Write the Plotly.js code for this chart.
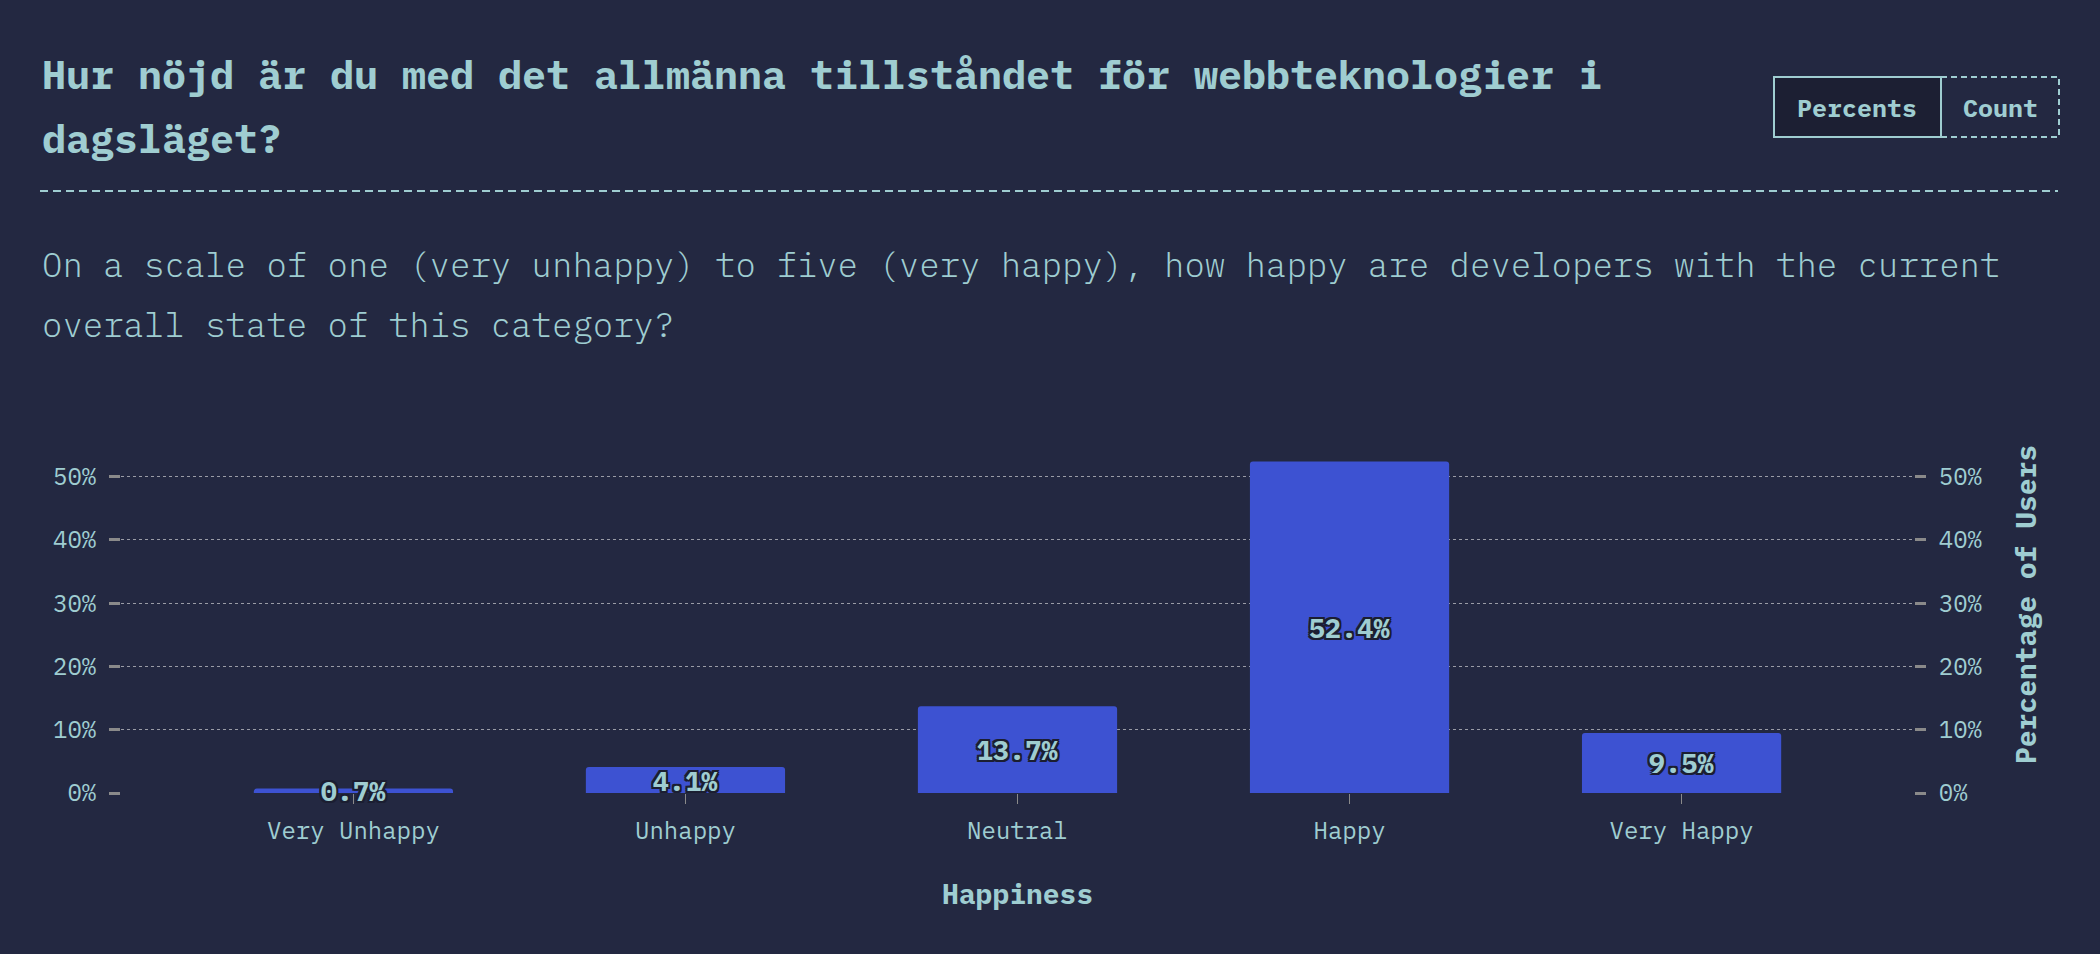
<!DOCTYPE html>
<html>
<head>
<meta charset="utf-8">
<script src="https://cdn.plot.ly/plotly-3.0.1.min.js"></script>
<style>
  html, body { margin: 0; padding: 0; background: #232841; }
  #chart { width: 2100px; height: 954px; }
</style>
</head>
<body>
<div id="chart"></div>
<script>
// ---- data ----
const categories = ['Very Unhappy', 'Unhappy', 'Neutral', 'Happy', 'Very Happy'];
const percents = [0.7, 4.1, 13.7, 52.4, 9.5];
const yTickVals = [0, 10, 20, 30, 40, 50];
const yTickLabels = ['0%', '10%', '20%', '30%', '40%', '50%'];
const titleLines = [
  'Hur nöjd är du med det allmänna tillståndet för webbteknologier i',
  'dagsläget?'
];
const subtitleLines = [
  'On a scale of one (very unhappy) to five (very happy), how happy are developers with the current',
  'overall state of this category?'
];
const buttonLabels = ['Percents', 'Count'];
const xTitle = 'Happiness';
const yTitle = 'Percentage of Users';

// ---- styling ----
const BG = '#232841';
const TXT = '#9fcdd1';
const BAR = '#3d52d2';
const FONT = '"IBM Plex Mono", "DejaVu Sans Mono", "Liberation Mono", monospace';

const W = 2100, H = 954;
const L = 121, R = 1914, T = 445, B = 793;
const pw = R - L, ph = B - T;
const px = x => (x - L) / pw;
const py = y => (B - y) / ph;

const trace = {
  type: 'bar',
  x: categories,
  y: percents,
  width: 0.6,
  marker: { color: BAR, cornerradius: 3 },
  texttemplate: '%{y:.1f}%',
  textposition: 'inside',
  insidetextanchor: 'middle',
  constraintext: 'none',
  textangle: 0,
  cliponaxis: false,
  textfont: {
    family: FONT, size: 27, color: TXT, weight: 700,
    shadow: '2px 2px 0 #1b1e31, -2px -2px 0 #1b1e31, 2px -2px 0 #1b1e31, -2px 2px 0 #1b1e31, 0 2px 0 #1b1e31, 0 -2px 0 #1b1e31, 2px 0 0 #1b1e31, -2px 0 0 #1b1e31'
  },
  hoverinfo: 'skip'
};

// invisible trace that only registers the right-hand axis (draws nothing)
const axisTrace = {
  type: 'scatter', mode: 'none',
  x: categories, y: percents,
  yaxis: 'y2', hoverinfo: 'skip', showlegend: false
};

const annotations = [];
titleLines.forEach((t, i) => annotations.push({
  text: t, xref: 'paper', yref: 'paper', x: px(40), y: py(74 + i * 64),
  xanchor: 'left', yanchor: 'middle', showarrow: false,
  font: { family: FONT, size: 40, color: TXT, weight: 700 }
}));
subtitleLines.forEach((t, i) => annotations.push({
  text: t, xref: 'paper', yref: 'paper', x: px(40), y: py(264 + i * 60),
  xanchor: 'left', yanchor: 'middle', showarrow: false,
  font: { family: FONT, size: 34, color: TXT, weight: 300 }
}));
annotations.push({
  text: buttonLabels[0], xref: 'paper', yref: 'paper', x: px(1857), y: py(107),
  xanchor: 'center', yanchor: 'middle', showarrow: false,
  font: { family: FONT, size: 25, color: TXT, weight: 700 }
});
annotations.push({
  text: buttonLabels[1], xref: 'paper', yref: 'paper', x: px(2000), y: py(107),
  xanchor: 'center', yanchor: 'middle', showarrow: false,
  font: { family: FONT, size: 25, color: TXT, weight: 700 }
});
annotations.push({
  text: xTitle, xref: 'paper', yref: 'paper', x: 0.5, y: py(893),
  xanchor: 'center', yanchor: 'middle', showarrow: false,
  font: { family: FONT, size: 28, color: TXT, weight: 700 }
});
annotations.push({
  text: yTitle, xref: 'paper', yref: 'paper', x: px(2025), y: py(605),
  xanchor: 'center', yanchor: 'middle', showarrow: false, textangle: -90,
  font: { family: FONT, size: 28, color: TXT, weight: 700 }
});

const shapes = [
  { type: 'line', xref: 'paper', yref: 'paper', x0: px(40), x1: px(2058), y0: py(191), y1: py(191),
    line: { color: TXT, width: 2, dash: '8px,5px' } },
  { type: 'rect', xref: 'paper', yref: 'paper', x0: px(1941), x1: px(2059), y0: py(77), y1: py(137),
    line: { color: TXT, width: 2, dash: '6px,4px' }, fillcolor: 'rgba(0,0,0,0)' },
  { type: 'rect', xref: 'paper', yref: 'paper', x0: px(1774), x1: px(1941), y0: py(77), y1: py(137),
    line: { color: TXT, width: 2 }, fillcolor: '#1c1f33' }
];

const yCommon = {
  range: [0, 55],
  tickmode: 'array',
  tickvals: yTickVals,
  ticktext: yTickLabels,
  ticks: 'outside',
  ticklen: 11,
  tickwidth: 3,
  tickcolor: '#8a8a8a',
  ticklabelstandoff: 8,
  tickfont: { family: FONT, size: 24, color: TXT },
  zeroline: false,
  showline: false,
  fixedrange: true,
  autorange: false
};

const layout = {
  width: W, height: H,
  paper_bgcolor: BG, plot_bgcolor: BG,
  margin: { l: L, r: W - R, t: T, b: H - B, pad: 0 },
  showlegend: false,
  bargap: 0.4,
  xaxis: {
    type: 'category',
    range: [-0.7, 4.7],
    ticks: 'outside', ticklen: 10, tickwidth: 1, tickcolor: '#8a8a8a',
    ticklabelstandoff: 6,
    tickfont: { family: FONT, size: 24, color: TXT },
    showgrid: false, showline: false, zeroline: false, fixedrange: true
  },
  yaxis: Object.assign({}, yCommon, {
    side: 'left',
    showgrid: true, gridcolor: '#9a9ca6', griddash: 'dot', gridwidth: 1
  }),
  yaxis2: Object.assign({}, yCommon, {
    side: 'right', overlaying: 'y', showgrid: false, anchor: 'x'
  }),
  annotations: annotations,
  shapes: shapes
};

Plotly.newPlot('chart', [trace, axisTrace], layout, { staticPlot: true, displayModeBar: false });
</script>
</body>
</html>
